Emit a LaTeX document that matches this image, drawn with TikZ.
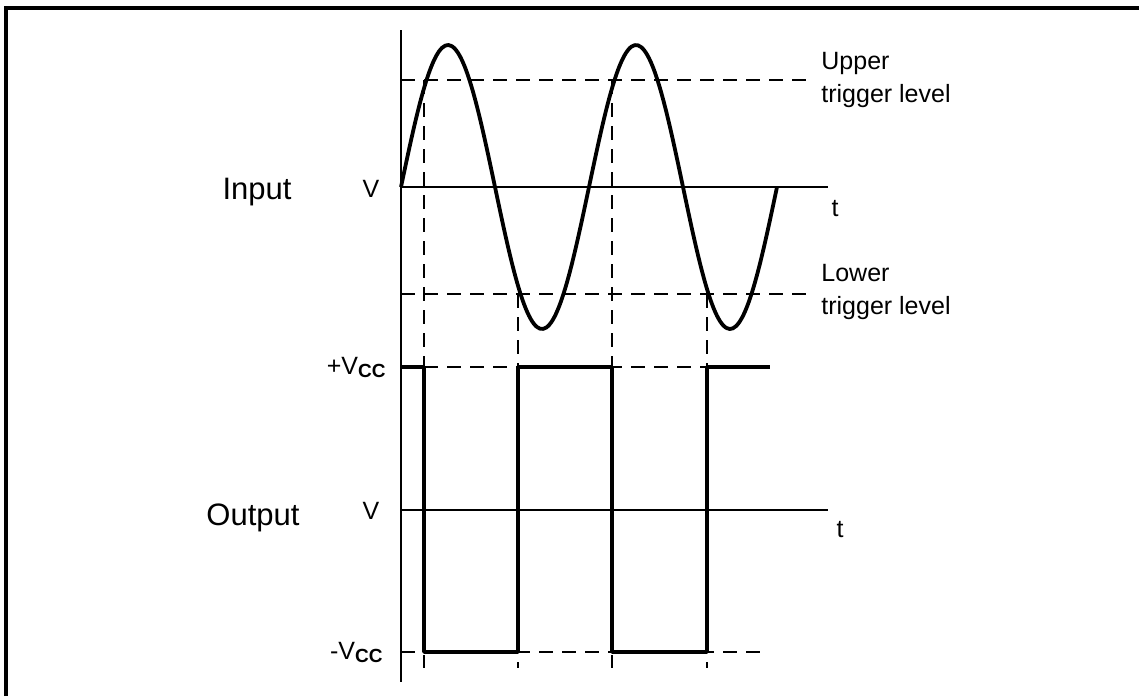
\documentclass[tikz,border=0pt]{standalone}
\usepackage{fontspec}
\setmainfont{Liberation Sans}
\usetikzlibrary{positioning}
\tikzstyle{axis} = [line width=0.8pt]
\tikzstyle{wave} = [line width=1.9pt, line join=round]
\tikzstyle{level} = [line width=0.8pt, dash pattern=on 7pt off 4.5pt]
\tikzstyle{title} = [font=\fontsize{15.5}{17}\selectfont, inner sep=0pt]
\tikzstyle{volt} = [font=\fontsize{12.5}{14}\selectfont, inner sep=0pt]
\tikzstyle{note} = [font=\fontsize{12.5}{16.5}\selectfont, align=left, inner sep=0pt, anchor=west]
\newcommand{\vccsub}{V\raisebox{-1.5pt}{\fontsize{9.5}{10}\selectfont\bfseries CC}}

\begin{document}
\begin{tikzpicture}[x=0.5pt, y=-0.5pt]
\useasboundingbox (0,0) rectangle (1139,696);
\draw [line width=2pt] (6,696) -- (6,8) -- (1139,8);

% axes
\coordinate (axtop) at (401,30);
\coordinate (axbot) at (401,682);
\coordinate (in0) at (401,187);
\coordinate (inend) at (828,187);
\coordinate (out0) at (401,510);
\coordinate (outend) at (828,510);
\draw [axis] (axtop) -- (axbot);
\draw [axis] (in0) -- (inend);
\draw [axis] (out0) -- (outend);

% trigger levels and supply levels
\draw [level] (401,80) -- (812,80);
\draw [level] (401,294) -- (812,294);
\draw [level] (401,367) -- (770,367);
\draw [level] (401,652) -- (767,652);
\foreach \xa/\ya in {424/80, 518/294, 612/80, 707/294}
  \draw [level] (\xa,\ya) -- (\xa,668);

% input sine, angle in degrees
\draw [wave] plot[domain=0:720, samples=120, smooth] ({401+(\x/360)*188}, {187-142*sin(\x)});

% output square wave
\draw [wave] (401,367) -- (424,367) -- (424,652) -- (518,652) -- (518,367)
  -- (612,367) -- (612,652) -- (707,652) -- (707,367) -- (770,367);

% labels
\node (input) [title] at (257,192) {Input};
\node (output) [title] at (253,518) {Output};
\node (vin) [volt] at (371,189) {V};
\node (vout) [volt] at (371,511) {V};
\node (tin) [volt] at (835,209) {t};
\node (tout) [volt] at (840,530) {t};
\node (vplus) [volt, anchor=east] at (386,367) {+\vccsub};
\node (vminus) [volt, anchor=east] at (383,652) {-\vccsub};
\node (upper) [note] at (821,80) {Upper\\trigger level};
\node (lower) [note] at (821,292) {Lower\\trigger level};

\end{tikzpicture}
\end{document}
